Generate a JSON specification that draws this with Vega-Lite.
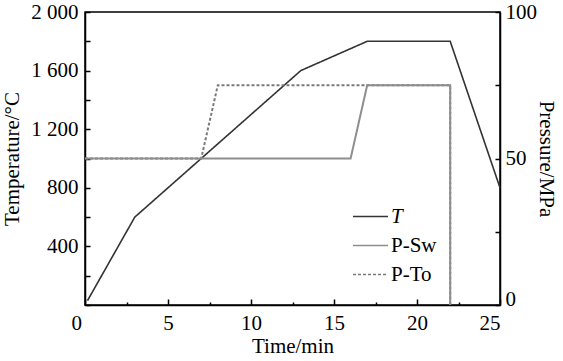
{
  "$schema": "https://vega.github.io/schema/vega-lite/v6.json",
  "width": 415,
  "height": 293,
  "autosize": {"type": "none"},
  "padding": {"left": 85, "top": 12, "right": 63, "bottom": 56},
  "background": "white",
  "config": {
    "font": "Liberation Serif",
    "view": {"stroke": "black", "strokeWidth": 1.5},
    "axis": {
      "domainColor": "black",
      "domainWidth": 1.5,
      "tickColor": "black",
      "tickWidth": 1.5,
      "grid": false,
      "labelFont": "Liberation Serif",
      "labelFontSize": 21,
      "labelColor": "black",
      "titleFont": "Liberation Serif",
      "titleFontSize": 21,
      "titleFontWeight": "normal",
      "titleColor": "black"
    },
    "legend": {
      "labelFont": "Liberation Serif",
      "labelFontSize": 21,
      "labelColor": "black"
    }
  },
  "data": {
    "values": [
      {"series": "T", "time": 0.15, "value": 30},
      {"series": "T", "time": 3, "value": 600},
      {"series": "T", "time": 13, "value": 1600},
      {"series": "T", "time": 17, "value": 1800},
      {"series": "T", "time": 22, "value": 1800},
      {"series": "T", "time": 25, "value": 800},
      {"series": "P-To", "time": 0, "value": 50},
      {"series": "P-To", "time": 7, "value": 50},
      {"series": "P-To", "time": 8, "value": 75},
      {"series": "P-To", "time": 22, "value": 75},
      {"series": "P-To", "time": 22, "value": 0},
      {"series": "P-Sw", "time": 0, "value": 50},
      {"series": "P-Sw", "time": 16, "value": 50},
      {"series": "P-Sw", "time": 17, "value": 75},
      {"series": "P-Sw", "time": 22, "value": 75},
      {"series": "P-Sw", "time": 22, "value": 0}
    ]
  },
  "layer": [
    {
      "transform": [{"filter": "datum.series == 'T'"}],
      "mark": {"type": "line", "strokeWidth": 1.6},
      "encoding": {
        "x": {
          "field": "time", "type": "quantitative",
          "scale": {"domain": [0, 25], "nice": false, "zero": false},
          "axis": {
            "title": "Time/min",
            "values": [0, 2.5, 5, 7.5, 10, 12.5, 15, 17.5, 20, 22.5, 25],
            "labelExpr": "datum.value % 5 == 0 ? datum.label : ''",
            "tickSize": {"condition": {"test": "datum.value % 5 != 0", "value": -3}, "value": -6},
            "labelPadding": 13,
            "labelOffset": {"condition": {"test": "datum.value == 0", "value": -14}, "value": 0},
            "titlePadding": 2
          }
        },
        "y": {
          "field": "value", "type": "quantitative",
          "scale": {"domain": [0, 2000], "nice": false},
          "axis": {
            "title": "Temperature/°C",
            "values": [0, 200, 400, 600, 800, 1000, 1200, 1400, 1600, 1800, 2000],
            "labelExpr": "datum.value % 400 == 0 && datum.value > 0 ? replace(format(datum.value, ','), ',', ' ') : ''",
            "tickSize": -5,
            "labelPadding": 12,
            "titlePadding": 8
          }
        },
        "color": {
          "field": "series", "type": "nominal",
          "scale": {"domain": ["T", "P-Sw", "P-To"], "range": ["#333333", "#8e8e8e", "#7a7a7a"]},
          "legend": {
            "title": null,
            "orient": "none",
            "legendX": 267,
            "legendY": 186,
            "symbolType": "stroke",
            "symbolSize": 1225,
            "symbolStrokeWidth": 1.6,
            "rowPadding": -7,
            "labelOffset": 2,
            "encode": {"labels": {"update": {"fontStyle": {"signal": "datum.label == 'T' ? 'italic' : 'normal'"}}}}
          }
        },
        "strokeDash": {
          "field": "series", "type": "nominal",
          "scale": {"domain": ["T", "P-Sw", "P-To"], "range": [[1, 0], [1, 0], [3, 2]]},
          "legend": {
            "title": null,
            "orient": "none",
            "legendX": 267,
            "legendY": 186,
            "symbolType": "stroke",
            "symbolSize": 1225,
            "symbolStrokeWidth": 1.6,
            "rowPadding": -7,
            "labelOffset": 2,
            "encode": {"labels": {"update": {"fontStyle": {"signal": "datum.label == 'T' ? 'italic' : 'normal'"}}}}
          }
        },
        "order": {"value": null}
      }
    },
    {
      "layer": [
        {
          "transform": [{"filter": "datum.series == 'P-To'"}],
          "mark": {"type": "line", "strokeWidth": 2},
          "encoding": {
            "x": {"field": "time", "type": "quantitative"},
            "y": {
              "field": "value", "type": "quantitative",
              "scale": {"domain": [0, 100], "nice": false},
              "axis": {
                "title": "Pressure/MPa",
                "orient": "right",
                "values": [0, 25, 50, 75, 100],
                "labelExpr": "datum.value % 50 == 0 ? datum.label : ''",
                "tickSize": -5,
                "labelPadding": 10,
                "labelOffset": {"condition": {"test": "datum.value == 0", "value": -6}, "value": 0},
                "titlePadding": -1
              }
            },
            "color": {"field": "series", "type": "nominal"},
            "strokeDash": {"field": "series", "type": "nominal"},
            "order": {"value": null}
          }
        },
        {
          "transform": [{"filter": "datum.series == 'P-Sw'"}],
          "mark": {"type": "line", "strokeWidth": 2},
          "encoding": {
            "x": {"field": "time", "type": "quantitative"},
            "y": {"field": "value", "type": "quantitative"},
            "color": {"field": "series", "type": "nominal"},
            "strokeDash": {"field": "series", "type": "nominal"},
            "order": {"value": null}
          }
        }
      ]
    }
  ],
  "resolve": {"scale": {"y": "independent"}}
}
